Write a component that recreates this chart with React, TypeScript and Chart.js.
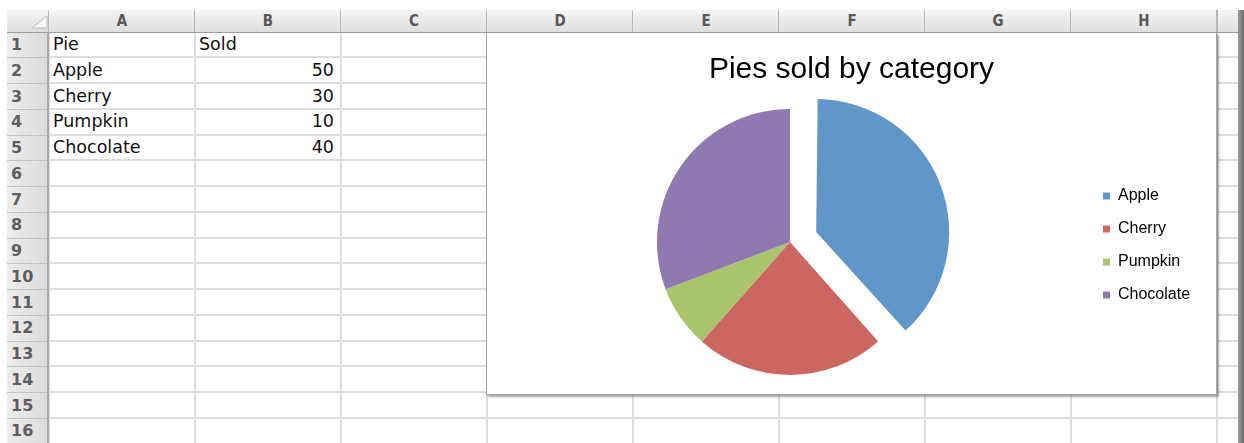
import React, { useEffect, useRef } from 'react';
import { Chart, registerables } from 'chart.js';

Chart.register(...registerables);

// ---- data ----
const CATEGORIES = ['Apple', 'Cherry', 'Pumpkin', 'Chocolate'];
const SOLD = [50, 30, 10, 40];
const HEADER_CELLS = ['Pie', 'Sold'];
const CHART_TITLE = 'Pies sold by category';
const EXPLODED_CATEGORY = 'Apple';
const COLUMN_LETTERS = ['A', 'B', 'C', 'D', 'E', 'F', 'G', 'H'];
const ROW_NUMBERS = [1, 2, 3, 4, 5, 6, 7, 8, 9, 10, 11, 12, 13, 14, 15, 16];

// ---- styles ----
const SLICE_COLORS = ['#6196c9', '#cc6661', '#a9c46a', '#9079b0'];
const PIE_RADIUS = 133;
const EXPLODE_OFFSET = 112; // chart.js draws offset/4 px of translation
const LEGEND_WIDTH = 123;

const HEADER_TOP = 10;
const HEADER_BOTTOM = 32;
const ROWHDR_LEFT = 7;
const ROWHDR_RIGHT = 49;
const COL_W = 146;
const ROW_H = 25.75;
const GRID_RIGHT = 1238;
const PAGE_W = 1244;
const PAGE_H = 443;

const CHART_BOX = { left: 486, top: 32, width: 732, height: 363 };

const legendWidthPlugin = {
  id: 'legendWidth',
  beforeInit(chart: any) {
    const legend = chart.legend;
    if (!legend) return;
    const fit = legend.fit;
    legend.fit = function () {
      fit.call(this);
      this.width = Math.max(this.width, LEGEND_WIDTH);
    };
  },
};

// keep the exploded slice at the same radius as the others
const explodedRadiusPlugin = {
  id: 'explodedRadius',
  beforeDatasetDraw(_chart: any, args: any) {
    const meta = args.meta;
    const base = meta.controller.outerRadius;
    meta.data.forEach((arc: any) => {
      const shift = ((arc.options && arc.options.offset) || 0) / 4;
      if (!shift) return;
      const fix = 1 - Math.sin(Math.min(Math.PI, arc.circumference || 0));
      arc.outerRadius = base - shift * fix;
    });
  },
};

const colLeft = (i: number) => ROWHDR_RIGHT + i * COL_W;
const rowTop = (r: number) => HEADER_BOTTOM + (r - 1) * ROW_H;

const cellFont = '"DejaVu Sans", "Liberation Sans", sans-serif';
const headerFont = '"DejaVu Sans Condensed", "DejaVu Sans", sans-serif';

function PieChart() {
  const ref = useRef<HTMLCanvasElement | null>(null);
  useEffect(() => {
    const canvas = ref.current;
    if (!canvas) return;
    const explodedIndex = CATEGORIES.indexOf(EXPLODED_CATEGORY);
    const chart = new Chart(canvas, {
      type: 'pie',
      data: {
        labels: CATEGORIES,
        datasets: [
          {
            label: HEADER_CELLS[1],
            data: SOLD,
            backgroundColor: SLICE_COLORS,
            borderWidth: 0,
            offset: CATEGORIES.map((_, i) => (i === explodedIndex ? EXPLODE_OFFSET : 0)),
          } as any,
        ],
      },
      options: {
        responsive: false,
        animation: false,
        radius: PIE_RADIUS,
        layout: { padding: { left: 8, right: 9, top: 0, bottom: 10 } },
        plugins: {
          title: {
            display: true,
            text: CHART_TITLE,
            color: '#000',
            font: { family: '"Liberation Sans", Arial, sans-serif', size: 30, weight: 'normal', lineHeight: 1.2 },
            padding: { top: 20, bottom: 11 },
          },
          legend: {
            position: 'right',
            align: 'center',
            fullSize: false,
            title: { display: true, text: '', padding: 0, font: { size: 7, lineHeight: 1 } },
            labels: {
              boxWidth: 7,
              boxHeight: 7,
              padding: 17,
              color: '#000',
              font: { family: '"Liberation Sans", Arial, sans-serif', size: 16 },
            },
          },
          tooltip: { enabled: false },
        },
      } as any,
      plugins: [legendWidthPlugin, explodedRadiusPlugin],
    });
    return () => chart.destroy();
  }, []);
  return (
    <canvas
      ref={ref}
      width={CHART_BOX.width}
      height={CHART_BOX.height}
      style={{
        position: 'absolute',
        left: CHART_BOX.left,
        top: CHART_BOX.top,
        width: CHART_BOX.width,
        height: CHART_BOX.height,
      }}
    />
  );
}

export default function App() {
  const tableRows: (string | number)[][] = [HEADER_CELLS, ...CATEGORIES.map((c, i) => [c, SOLD[i]])];
  const nCols = COLUMN_LETTERS.length;

  const hLines = ROW_NUMBERS.map((r) => Math.floor(rowTop(r + 1)));
  const vLines = Array.from({ length: nCols + 1 }, (_, i) => colLeft(i));

  return (
    <div
      style={{
        position: 'fixed',
        left: 0,
        top: 0,
        width: PAGE_W,
        height: PAGE_H,
        background: '#fff',
        overflow: 'hidden',
      }}
    >
      {/* grid lines */}
      {hLines.map((y, i) => (
        <div
          key={'h' + i}
          style={{ position: 'absolute', left: ROWHDR_RIGHT, top: y - 1, width: GRID_RIGHT - ROWHDR_RIGHT, height: 2, background: '#dcdcdc' }}
        />
      ))}
      {vLines.map((x, i) => (
        <div
          key={'v' + i}
          style={{ position: 'absolute', left: x - 1, top: HEADER_BOTTOM, width: 2, height: PAGE_H - HEADER_BOTTOM, background: '#dcdcdc' }}
        />
      ))}

      {/* column header */}
      <div
        style={{
          position: 'absolute',
          left: ROWHDR_LEFT,
          top: HEADER_TOP,
          width: GRID_RIGHT - ROWHDR_LEFT,
          height: HEADER_BOTTOM - HEADER_TOP + 1,
          boxSizing: 'border-box',
          background: 'linear-gradient(#f5f5f5, #dedede)',
          borderBottom: '1px solid #9c9c9c',
        }}
      />
      {vLines.map((x, i) => (
        <div
          key={'hs' + i}
          style={{ position: 'absolute', left: x - 1, top: HEADER_TOP, width: i === nCols ? 2 : 1, height: HEADER_BOTTOM - HEADER_TOP, background: '#b6b6b6' }}
        />
      ))}
      {COLUMN_LETTERS.map((l, i) => (
        <div
          key={'cl' + l}
          style={{
            position: 'absolute',
            left: colLeft(i),
            top: HEADER_TOP,
            width: COL_W,
            height: HEADER_BOTTOM - HEADER_TOP,
            lineHeight: HEADER_BOTTOM - HEADER_TOP + 'px',
            textAlign: 'center',
            fontFamily: headerFont,
            fontWeight: 'bold',
            fontSize: 15,
            color: '#575757',
          }}
        >
          {l}
        </div>
      ))}

      {/* corner */}
      <svg
        width={ROWHDR_RIGHT - ROWHDR_LEFT}
        height={HEADER_BOTTOM - HEADER_TOP}
        style={{ position: 'absolute', left: ROWHDR_LEFT, top: HEADER_TOP }}
      >
        <polygon points="40,6 40,18 25,18" fill="#fafafa" stroke="#b8b8b8" strokeWidth="1" />
      </svg>

      {/* row header */}
      <div
        style={{
          position: 'absolute',
          left: ROWHDR_LEFT,
          top: HEADER_BOTTOM + 1,
          width: ROWHDR_RIGHT - ROWHDR_LEFT,
          height: PAGE_H - HEADER_BOTTOM,
          boxSizing: 'border-box',
          background: 'linear-gradient(90deg, #ececec, #dcdcdc)',
          borderRight: '2px solid #a8a8a8',
        }}
      />
      {hLines.map((y, i) => (
        <div
          key={'rs' + i}
          style={{ position: 'absolute', left: ROWHDR_LEFT, top: y, width: ROWHDR_RIGHT - ROWHDR_LEFT - 2, height: 1, background: '#c2c2c2' }}
        />
      ))}
      {ROW_NUMBERS.map((r) => (
        <div
          key={'rn' + r}
          style={{
            position: 'absolute',
            left: ROWHDR_LEFT + 4,
            top: rowTop(r),
            height: ROW_H,
            lineHeight: ROW_H + 'px',
            fontFamily: cellFont,
            fontWeight: 'bold',
            fontSize: 16,
            color: '#5e5e5e',
          }}
        >
          {r}
        </div>
      ))}

      {/* cell contents */}
      {tableRows.map((row, ri) =>
        row.map((v, ci) => (
          <div
            key={'c' + ri + '_' + ci}
            style={{
              position: 'absolute',
              left: colLeft(ci) + 4,
              top: rowTop(ri + 1),
              width: COL_W - 11,
              height: ROW_H,
              lineHeight: ROW_H + 'px',
              textAlign: typeof v === 'number' ? 'right' : 'left',
              fontFamily: cellFont,
              fontSize: 17.5,
              color: '#111',
              whiteSpace: 'nowrap',
            }}
          >
            {v}
          </div>
        ))
      )}

      {/* right edge */}
      <div
        style={{
          position: 'absolute',
          left: GRID_RIGHT,
          top: HEADER_TOP,
          width: PAGE_W - GRID_RIGHT,
          height: PAGE_H - HEADER_TOP,
          background: 'linear-gradient(90deg, #9a9a9a, #6e6e6e)',
        }}
      />

      {/* chart box */}
      <div
        style={{
          position: 'absolute',
          left: CHART_BOX.left,
          top: CHART_BOX.top + 1,
          width: CHART_BOX.width - 1,
          height: CHART_BOX.height - 1,
          boxSizing: 'border-box',
          background: '#fff',
          border: '1px solid #a4a4a4',
          borderTop: 'none',
          boxShadow: '2px 2px 2px rgba(0,0,0,0.35)',
        }}
      />
      <PieChart />
    </div>
  );
}
